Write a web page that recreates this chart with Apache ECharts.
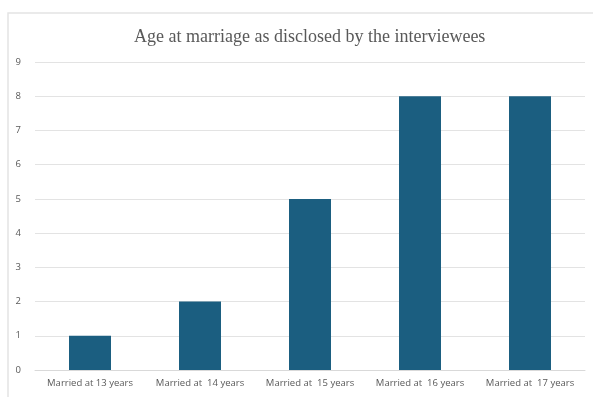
<!DOCTYPE html>
<html>
<head>
<meta charset="utf-8">
<script src="https://cdn.jsdelivr.net/npm/echarts@6/dist/echarts.min.js"></script>
<style>
  html, body { margin: 0; padding: 0; background: #fff; }
  #chart { width: 593px; height: 397px; }
</style>
</head>
<body>
<div id="chart"></div>
<script>
var categories = ['Married at 13 years', 'Married at  14 years', 'Married at  15 years', 'Married at  16 years', 'Married at  17 years'];
var counts = [1, 2, 5, 8, 8];
var yTicks = [0, 9, 1];

(function() {
  var el = document.getElementById('chart');
  var chart = echarts.init(el, null, { renderer: 'canvas' });
  chart.setOption({
    animation: false,
    backgroundColor: '#fff',
    title: {
      text: 'Age at marriage as disclosed by the interviewees',
      left: 129,
      top: 23,
      textStyle: { fontFamily: 'Liberation Serif', fontWeight: 'normal', fontSize: 18, color: '#595959' }
    },
    graphic: [{
      type: 'rect',
      shape: { x: 8, y: 13, width: 600, height: 400 },
      style: { fill: 'none', stroke: '#e4e4e4', lineWidth: 1.5 },
      silent: true
    }],
    grid: { left: 35, right: 8, top: 62, bottom: 27 },
    xAxis: {
      type: 'category',
      data: categories,
      axisLine: { lineStyle: { color: '#d9d9d9' } },
      axisTick: { show: false },
      axisLabel: { color: '#595959', fontSize: 9.5, fontFamily: 'Open Sans', margin: 8, interval: 0 }
    },
    yAxis: {
      type: 'value',
      min: yTicks[0],
      max: yTicks[1],
      interval: yTicks[2],
      axisLine: { show: false },
      axisTick: { show: false },
      splitLine: { lineStyle: { color: '#e3e3e3' } },
      axisLabel: { color: '#595959', fontSize: 9.5, fontFamily: 'Open Sans', margin: 14 }
    },
    series: [{
      type: 'bar',
      data: counts,
      barWidth: 42,
      itemStyle: { color: '#1b5e80' }
    }]
  });
  window.addEventListener('resize', function() { chart.resize(); });
})();
</script>
</body>
</html>
